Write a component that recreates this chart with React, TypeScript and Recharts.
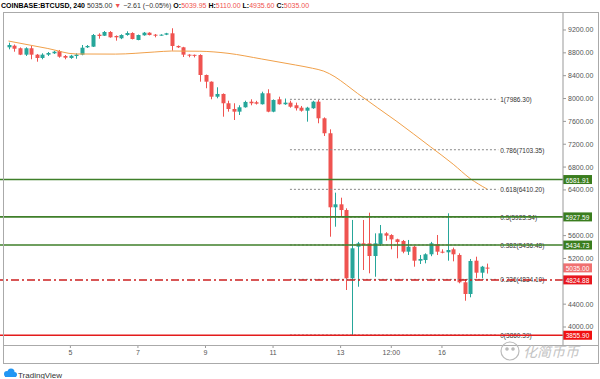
import React from 'react';
import { ComposedChart, Bar, Line, XAxis, YAxis, ReferenceLine } from 'recharts';

const UP = '#26a69a';
const DOWN = '#ef5350';
const FONT = '"Liberation Sans", Arial, sans-serif';

// 4h candles, slot 1 = Mar 3 04:00 (slots 0..99 on the axis)
const firstSlot = 1;
const opens = [
  8897, 8925, 8880, 8768, 8880, 8768, 8710, 8768, 8792, 8832,
  8745, 8710, 8745, 8768, 8897, 8908, 9118, 9100, 9165, 9095,
  9055, 9112, 9147, 9025, 9107, 9153, 9118, 9107, 9118, 9142,
  8920, 8897, 8768, 8765, 8762, 8412, 8295, 8032, 8080, 7917,
  7817, 7770, 7847, 7945, 7935, 7900, 8092, 7770, 7987, 7900,
  7928, 7882, 7840, 7787, 7830, 7945, 7654, 7392, 6096, 6148,
  6048, 4853, 5406, 5465, 5465, 5243, 5453, 5640, 5610, 5535,
  5506, 5319, 5406, 5161, 5173, 5273, 5448, 5319, 5308, 5360,
  5261, 4783, 4578, 5161, 4951, 5039.95,
];
const highs = [
  8978, 8946, 8895, 8897, 8920, 8780, 8792, 8815, 8835, 8850,
  8762, 8765, 8792, 8937, 8937, 9130, 9142, 9182, 9180, 9105,
  9125, 9177, 9160, 9120, 9165, 9160, 9130, 9125, 9150, 9230,
  8930, 8905, 8775, 8770, 8775, 8420, 8300, 8197, 8090, 7962,
  7917, 7882, 7962, 7987, 7960, 8120, 8162, 7985, 8032, 8000,
  7962, 7928, 7870, 7855, 7960, 7975, 7670, 7461, 6352, 6264,
  6078, 5874, 5490, 5874, 6001, 5640, 5786, 5660, 5625, 5545,
  5524, 5524, 5420, 5261, 5290, 5490, 5611, 5360, 5990, 5390,
  5290, 4840, 5191, 5231, 5070, 5110,
];
const lows = [
  8862, 8820, 8760, 8745, 8687, 8645, 8687, 8745, 8780, 8715,
  8687, 8695, 8697, 8757, 8885, 8902, 9048, 9095, 9065, 9013,
  9040, 9100, 9035, 9020, 9100, 9105, 9072, 9100, 9110, 8838,
  8885, 8727, 8722, 8720, 8295, 8180, 7987, 8004, 7682, 7770,
  7624, 7712, 7840, 7882, 7895, 7895, 7760, 7760, 7895, 7890,
  7840, 7790, 7770, 7595, 7820, 7567, 7344, 5581, 5756, 5944,
  4648, 3858, 4705, 4998, 4940, 4880, 5420, 5511, 5360, 5203,
  5291, 5261, 5056, 5103, 5115, 5240, 5261, 5290, 5161, 5150,
  4765, 4460, 4520, 4853, 4853, 4935.6,
];
const closes = [
  8937, 8872, 8768, 8880, 8768, 8710, 8768, 8797, 8820, 8733,
  8715, 8750, 8768, 8890, 8920, 9112, 9095, 9165, 9072, 9072,
  9112, 9147, 9042, 9112, 9153, 9112, 9100, 9118, 9142, 8920,
  8897, 8768, 8757, 8755, 8412, 8295, 8032, 8080, 7917, 7817,
  7770, 7847, 7940, 7917, 7910, 8092, 7770, 7975, 7900, 7928,
  7857, 7830, 7787, 7840, 7945, 7654, 7392, 6096, 6148, 6048,
  4853, 5378, 5465, 5430, 5243, 5465, 5640, 5599, 5535, 5488,
  5319, 5406, 5161, 5191, 5273, 5465, 5319, 5301, 5348, 5273,
  4783, 4578, 5156, 4951, 5056, 5035,
];

// moving average, read at a few slots
const maSlots = [1, 5, 8, 13, 20, 27, 30, 35, 40, 46, 52, 55, 57, 59, 61, 63, 70, 76, 80, 83, 86];
const maValues = [9007, 8932, 8876, 8780, 8778, 8815, 8832, 8828, 8792, 8692, 8587, 8530, 8480, 8380, 8240, 8090, 7598, 7152, 6850, 6600, 6416];

const xTickSlots = [12, 24, 36, 48, 60, 69, 78];
const xTickLabels = ['5', '7', '9', '11', '13', '12:00', '16'];
const yTicks = [4000, 4400, 5200, 5600, 6400, 6800, 7200, 7600, 8000, 8400, 8800, 9200];

const greenLevels = [6581.91, 5927.59, 5434.73];
const fibRatios = ['1', '0.786', '0.618', '0.5', '0.382', '0.236', '0'];
const fibPrices = [7986.3, 7103.35, 6410.2, 5923.34, 5436.48, 4834.1, 3860.39];
const lastPrice = 5035.0;
const dashedLevel = 4824.88;
const lowLevel = 3855.9;

const slotCount = 100;
const data = Array.from({ length: slotCount }, (_, i) => {
  const k = i - firstSlot;
  const has = k >= 0 && k < opens.length;
  const m = maSlots.indexOf(i);
  return {
    i,
    range: has ? [lows[k], highs[k]] : null,
    open: has ? opens[k] : null,
    high: has ? highs[k] : null,
    low: has ? lows[k] : null,
    close: has ? closes[k] : null,
    ma: m >= 0 ? maValues[m] : null,
  };
});

const Candle = (props: any) => {
  const { x, y, width, height, payload } = props;
  if (!payload || payload.range == null) return null;
  const { open, close, high, low } = payload;
  const h = Math.abs(height);
  const top = Math.min(y, y + height);
  const ratio = high - low > 0 ? h / (high - low) : 0;
  const yO = top + (high - open) * ratio;
  const yC = top + (high - close) * ratio;
  const color = close >= open ? UP : DOWN;
  const cx = Math.round(x + width / 2) + 0.5;
  const bodyTop = Math.min(yO, yC);
  const bodyH = Math.max(1, Math.abs(yO - yC));
  return (
    <g>
      <line x1={cx} x2={cx} y1={top} y2={top + h} stroke={color} strokeWidth={1} />
      <rect x={cx - 2} y={bodyTop} width={4} height={bodyH} fill={color} />
    </g>
  );
};

const axisTag = (text: string, bg: string) => (props: any) => {
  const vb = props.viewBox;
  if (!vb) return null;
  const x = vb.x + vb.width;
  const y = vb.y;
  return (
    <g>
      <rect x={x} y={y - 4.5} width={29} height={9} fill={bg} />
      <text x={x + 14.5} y={y + 0.5} fill="#fff" fontSize={6.5} textAnchor="middle" dominantBaseline="central" fontFamily={FONT}>
        {text}
      </text>
    </g>
  );
};

const fibLabel = (text: string) => (props: any) => {
  const vb = props.viewBox;
  if (!vb) return null;
  return (
    <text x={vb.x + vb.width + 2} y={vb.y + 0.5} fill="#333" fontSize={6.5} dominantBaseline="central" fontFamily={FONT}>
      {text}
    </text>
  );
};

export default function App() {
  return (
    <div style={{ position: 'absolute', left: 0, top: 0, width: 600, height: 379, background: '#fff', overflow: 'hidden' }}>
      <div style={{ position: 'absolute', left: 1, top: 0, fontSize: 7, lineHeight: '11px', fontFamily: FONT, whiteSpace: 'nowrap', color: '#333' }}>
        <b style={{ color: '#000' }}>COINBASE:BTCUSD, 240</b>{' '}
        <span>5035.00</span> <span style={{ color: DOWN }}>▼</span> <span>−2.61 (−0.05%)</span>{' '}
        <b style={{ color: '#000' }}>O:</b><span style={{ color: DOWN }}>5039.95</span>{' '}
        <b style={{ color: '#000' }}>H:</b><span style={{ color: DOWN }}>5110.00</span>{' '}
        <b style={{ color: '#000' }}>L:</b><span style={{ color: DOWN }}>4935.60</span>{' '}
        <b style={{ color: '#000' }}>C:</b><span style={{ color: DOWN }}>5035.00</span>
      </div>
      <ComposedChart width={600} height={379} data={data} margin={{ top: 12, right: 2, bottom: 16, left: 0 }}>
        <XAxis
          dataKey="i"
          type="category"
          ticks={xTickSlots}
          interval={0}
          height={18}
          tickSize={3}
          axisLine={false}
          tickLine={{ stroke: '#999' }}
          tick={{ fontSize: 7, fill: '#555', fontFamily: FONT }}
          tickFormatter={(v: number) => {
            const k = xTickSlots.indexOf(v);
            return k >= 0 ? xTickLabels[k] : '';
          }}
        />
        <YAxis
          orientation="right"
          width={35}
          domain={[3685, 9515]}
          allowDataOverflow
          ticks={yTicks}
          interval={0}
          tickSize={3}
          axisLine={{ stroke: '#999' }}
          tickLine={{ stroke: '#999' }}
          tick={{ fontSize: 7, fill: '#555', fontFamily: FONT }}
          tickFormatter={(v: number) => v.toFixed(2)}
        />
        {fibPrices.map((p, k) => (
          <ReferenceLine
            key={'fib' + k}
            segment={[{ x: 51, y: p }, { x: 88, y: p }]}
            stroke="#888"
            strokeDasharray="2 2"
            strokeWidth={1}
            label={fibLabel(`${fibRatios[k]}(${p.toFixed(2)})`)}
          />
        ))}
        <Line dataKey="ma" type="monotone" connectNulls stroke="#f0a04a" strokeWidth={1} dot={false} isAnimationActive={false} />
        <Bar dataKey="range" barSize={4} shape={Candle} isAnimationActive={false} />
        {greenLevels.map((p) => (
          <ReferenceLine key={'g' + p} y={p} stroke="#3f7f2a" strokeWidth={1.6} label={axisTag(p.toFixed(2), '#3a7d1e')} />
        ))}
        <ReferenceLine y={lastPrice} stroke="none" label={axisTag(lastPrice.toFixed(2), '#f07070')} />
        <ReferenceLine y={dashedLevel} stroke="#cc1f1f" strokeWidth={1.5} strokeDasharray="8 3 2 3" label={axisTag(dashedLevel.toFixed(2), '#e8161e')} />
        <ReferenceLine y={lowLevel} stroke="#e31b1b" strokeWidth={1.5} label={axisTag(lowLevel.toFixed(2), '#f01010')} />
      </ComposedChart>
      <svg width={600} height={379} style={{ position: 'absolute', left: 0, top: 0, pointerEvents: 'none' }}>
        <g stroke="#aaa" strokeWidth={1} fill="none">
          <line x1={3} x2={599} y1={12.5} y2={12.5} />
          <line x1={3.5} x2={3.5} y1={12} y2={364} />
          <line x1={598.5} x2={598.5} y1={12} y2={364} />
          <line x1={3} x2={599} y1={345.5} y2={345.5} />
          <line x1={3} x2={599} y1={363.5} y2={363.5} />
        </g>
        <g fill="none" stroke="#bbb" strokeWidth={1.2}>
          <circle cx={510} cy={351} r={9} />
          <circle cx={507} cy={349} r={1.2} fill="#bbb" />
          <circle cx={513} cy={349} r={1.2} fill="#bbb" />
        </g>
        <text x={523} y={357} fontSize={14} fill="#c4c4c4" fontFamily='"Noto Sans CJK SC", sans-serif' fontStyle="italic">
          化简币币
        </text>
        <g fill="#2196f3">
          <circle cx={7} cy={374} r={3} />
          <circle cx={11} cy={372} r={3.5} />
          <circle cx={14.5} cy={374.5} r={2.5} />
          <rect x={5} y={374} width={11} height={3} />
        </g>
        <text x={18} y={377.5} fontSize={8} fill="#333" fontFamily={FONT}>
          TradingView
        </text>
      </svg>
    </div>
  );
}
